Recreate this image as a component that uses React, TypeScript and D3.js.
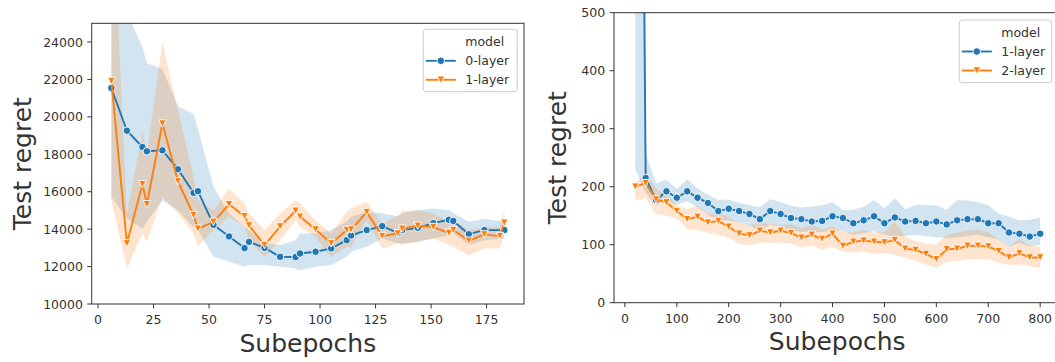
import React from 'react';
import * as d3 from 'd3';

// ---------- Left chart data ----------
const leftBlueX = [6, 13, 20, 22, 29, 36, 43, 45, 52, 59, 66, 68, 75, 82, 89, 91, 98, 105, 112, 114, 121, 128, 135, 137, 144, 151, 158, 160, 167, 174, 183];
const leftBlueMean = [21540, 19260, 18390, 18160, 18210, 17200, 15940, 16030, 14230, 13610, 12990, 13320, 13000, 12520, 12510, 12700, 12790, 12970, 13410, 13660, 13950, 14160, 13800, 13950, 14070, 14320, 14500, 14440, 13730, 13950, 13950];
const leftBlueHi = [32000, 25600, 23720, 22870, 22570, 20560, 20170, 19370, 16260, 14850, 14120, 13950, 13250, 13150, 13410, 13770, 13770, 13950, 14390, 14660, 14920, 14850, 14690, 14850, 15010, 15100, 15010, 14850, 14390, 14560, 14390];
const leftBlueLo = [15720, 14570, 14040, 14390, 15550, 15010, 14120, 13950, 12520, 12260, 11990, 12080, 12080, 11990, 11900, 11810, 11990, 12080, 12520, 12790, 13060, 13500, 13240, 13240, 13320, 13500, 13680, 13770, 13150, 13410, 13500];

const leftOrangeX = [6, 13, 20, 22, 29, 36, 43, 45, 52, 59, 66, 68, 75, 82, 89, 91, 98, 105, 112, 114, 121, 128, 135, 137, 144, 151, 158, 160, 167, 174, 181, 183];
const leftOrangeMean = [21910, 13240, 16400, 15330, 19640, 16560, 14750, 14020, 14390, 15330, 14690, 14200, 13150, 14140, 14980, 14660, 13980, 13240, 13950, 13980, 14910, 13630, 13770, 14020, 14180, 14110, 13800, 13950, 13380, 13720, 13630, 14340];
const leftOrangeHi = [33000, 14800, 19190, 18030, 23990, 20350, 16790, 15550, 15010, 16170, 15370, 14840, 13950, 14840, 15550, 15370, 14480, 13770, 14920, 15100, 15460, 14300, 14700, 14980, 15010, 14840, 14390, 14480, 13950, 14120, 14120, 15010];
const leftOrangeLo = [15550, 11900, 13770, 13320, 15720, 14840, 13770, 13060, 13950, 14660, 14120, 13410, 12520, 13410, 14480, 14120, 13590, 12520, 13060, 13060, 14480, 12970, 13240, 13150, 13320, 13500, 13150, 13060, 12610, 12970, 12970, 13770];

const leftXTicks = [0, 25, 50, 75, 100, 125, 150, 175];
const leftYTicks = [10000, 12000, 14000, 16000, 18000, 20000, 22000, 24000];

// ---------- Right chart data ----------
const rightX = [20, 40, 60, 80, 100, 120, 140, 160, 180, 200, 220, 240, 260, 280, 300, 320, 340, 360, 380, 400, 420, 440, 460, 480, 500, 520, 540, 560, 580, 600, 620, 640, 660, 680, 700, 720, 740, 760, 780, 800];
const rightBlueMean = [2500, 215, 177, 192, 181, 192, 181, 172, 158, 162, 158, 153, 144, 158, 153, 146, 144, 140, 141, 149, 146, 137, 142, 149, 137, 147, 140, 141, 137, 140, 135, 142, 144, 144, 137, 137, 121, 119, 114, 119];
const rightBlueHi = [9000, 258, 205, 212, 196, 213, 197, 186, 177, 178, 172, 169, 164, 179, 173, 167, 164, 166, 168, 173, 160, 160, 166, 177, 163, 180, 161, 169, 168, 168, 160, 177, 176, 173, 168, 154, 148, 142, 143, 147];
const rightBlueLo = [230, 190, 168, 177, 169, 175, 164, 152, 141, 142, 138, 133, 123, 135, 131, 124, 122, 122, 122, 125, 123, 117, 120, 123, 117, 114, 115, 117, 115, 113, 111, 113, 115, 117, 113, 109, 96, 103, 97, 100];
const rightOrangeMean = [200, 206, 178, 173, 158, 144, 148, 138, 141, 131, 119, 116, 124, 121, 124, 120, 112, 117, 110, 119, 98, 105, 107, 105, 104, 108, 93, 91, 84, 75, 92, 93, 98, 98, 97, 89, 78, 85, 78, 78];
const rightOrangeHi = [207, 224, 196, 187, 169, 161, 167, 153, 155, 147, 137, 134, 137, 136, 134, 135, 129, 134, 126, 132, 122, 121, 125, 121, 122, 140, 114, 106, 102, 100, 117, 121, 124, 126, 121, 110, 96, 110, 98, 97];
const rightOrangeLo = [177, 180, 153, 150, 146, 128, 125, 121, 117, 112, 102, 99, 104, 103, 104, 102, 95, 99, 91, 97, 88, 87, 88, 85, 86, 82, 78, 72, 66, 60, 70, 72, 75, 75, 75, 69, 65, 66, 63, 60];

const rightXTicks = [0, 100, 200, 300, 400, 500, 600, 700, 800];
const rightYTicks = [0, 100, 200, 300, 400, 500];

const BLUE = '#1f77b4';
const ORANGE = '#ff7f0e';
const FONT = 'DejaVu Sans, sans-serif';
const TXT = '#333';

type Series = { name: string; x: number[]; mean: number[]; lo: number[]; hi: number[]; color: string; marker: 'o' | 'v' };

function Marker({ type, cx, cy, color }: { type: 'o' | 'v'; cx: number; cy: number; color: string }) {
  const h = 3.75;
  if (type === 'o') return <circle cx={cx} cy={cy} r={h} fill={color} stroke="#fff" strokeWidth={0.9} />;
  return <path d={`M${cx - h},${cy - h}L${cx + h},${cy - h}L${cx},${cy + h}Z`} fill={color} stroke="#fff" strokeWidth={0.9} />;
}

type PanelProps = {
  id: string;
  box: { left: number; right: number; top: number; bottom: number };
  xDomain: [number, number];
  yDomain: [number, number];
  xTicks: number[];
  yTicks: number[];
  series: Series[];
  legend: { x: number; y: number; w: number; h: number };
  yLabelX: number;
};

function Panel({ id, box, xDomain, yDomain, xTicks, yTicks, series, legend, yLabelX }: PanelProps) {
  const x = d3.scaleLinear().domain(xDomain).range([box.left, box.right]);
  const y = d3.scaleLinear().domain(yDomain).range([box.bottom, box.top]);
  const area = (s: Series) =>
    d3.area<number>().x((_, i) => x(s.x[i])).y0((_, i) => y(s.lo[i])).y1((_, i) => y(s.hi[i]))(s.mean) || '';
  const line = (s: Series) => d3.line<number>().x((_, i) => x(s.x[i])).y((d) => y(d))(s.mean) || '';
  const tick = 4.4;
  const pad = 4.4;
  return (
    <g>
      <defs>
        <clipPath id={id}>
          <rect x={box.left} y={box.top} width={box.right - box.left} height={box.bottom - box.top} />
        </clipPath>
      </defs>
      <g clipPath={`url(#${id})`}>
        {series.map((s) => (
          <path key={s.name + 'b'} d={area(s)} fill={s.color} fillOpacity={0.2} stroke="none" />
        ))}
        {series.map((s) => (
          <g key={s.name + 'l'}>
            <path d={line(s)} fill="none" stroke={s.color} strokeWidth={1.9} strokeLinejoin="round" />
            {s.mean.map((v, i) => (
              <Marker key={i} type={s.marker} cx={x(s.x[i])} cy={y(v)} color={s.color} />
            ))}
          </g>
        ))}
      </g>
      <rect x={box.left} y={box.top} width={box.right - box.left} height={box.bottom - box.top} fill="none" stroke={TXT} strokeWidth={1} />
      {xTicks.map((t) => (
        <g key={'x' + t}>
          <line x1={x(t)} x2={x(t)} y1={box.bottom} y2={box.bottom + tick} stroke={TXT} strokeWidth={1} />
          <text x={x(t)} y={box.bottom + tick + pad + 11.6} textAnchor="middle" fontSize={12.5} fontFamily={FONT} fill={TXT}>
            {t}
          </text>
        </g>
      ))}
      {yTicks.map((t) => (
        <g key={'y' + t}>
          <line x1={box.left - tick} x2={box.left} y1={y(t)} y2={y(t)} stroke={TXT} strokeWidth={1} />
          <text x={box.left - tick - pad} y={y(t)} dy="0.36em" textAnchor="end" fontSize={12.5} fontFamily={FONT} fill={TXT}>
            {t}
          </text>
        </g>
      ))}
      <text x={(box.left + box.right) / 2} y={box.bottom + 47.7} textAnchor="middle" fontSize={25} fontFamily={FONT} fill={TXT}>
        Subepochs
      </text>
      <text
        transform={`translate(${yLabelX},${(box.top + box.bottom) / 2}) rotate(-90)`}
        textAnchor="middle"
        fontSize={25}
        fontFamily={FONT}
        fill={TXT}
      >
        Test regret
      </text>
      <g>
        <rect x={legend.x} y={legend.y} width={legend.w} height={legend.h} rx={3} fill="#fff" fillOpacity={0.8} stroke="#ccc" strokeWidth={1} />
        <text x={legend.x + 42} y={legend.y + 17} fontSize={12.5} fontFamily={FONT} fill={TXT}>
          model
        </text>
        {series.map((s, i) => {
          const by = legend.y + 36 + i * 19;
          const cy = by - 4.5;
          return (
            <g key={s.name + 'lg'}>
              <line x1={legend.x + 2.5} x2={legend.x + 32.5} y1={cy} y2={cy} stroke={s.color} strokeWidth={1.9} />
              <Marker type={s.marker} cx={legend.x + 17.5} cy={cy} color={s.color} />
              <text x={legend.x + 42} y={by} fontSize={12.5} fontFamily={FONT} fill={TXT}>
                {s.name}
              </text>
            </g>
          );
        })}
      </g>
    </g>
  );
}

export default function App() {
  const leftSeries: Series[] = [
    { name: '0-layer', x: leftBlueX, mean: leftBlueMean, lo: leftBlueLo, hi: leftBlueHi, color: BLUE, marker: 'o' },
    { name: '1-layer', x: leftOrangeX, mean: leftOrangeMean, lo: leftOrangeLo, hi: leftOrangeHi, color: ORANGE, marker: 'v' },
  ];
  const rightSeries: Series[] = [
    { name: '1-layer', x: rightX, mean: rightBlueMean, lo: rightBlueLo, hi: rightBlueHi, color: BLUE, marker: 'o' },
    { name: '2-layer', x: rightX, mean: rightOrangeMean, lo: rightOrangeLo, hi: rightOrangeHi, color: ORANGE, marker: 'v' },
  ];
  return (
    <svg width={1055} height={362} style={{ position: 'absolute', left: 0, top: 0, display: 'block', background: '#fff' }}>
      <rect x={0} y={0} width={1055} height={362} fill="#fff" />
      <Panel
        id="clipL"
        box={{ left: 91.7, right: 524, top: 23.3, bottom: 304 }}
        xDomain={[-2.85, 191.85]}
        yDomain={[10000, 25000]}
        xTicks={leftXTicks}
        yTicks={leftYTicks}
        series={leftSeries}
        legend={{ x: 423.3, y: 29.3, w: 94, h: 62.4 }}
        yLabelX={31}
      />
      <Panel
        id="clipR"
        box={{ left: 614, right: 1060.4, top: 12.7, bottom: 302.7 }}
        xDomain={[-21, 839]}
        yDomain={[0, 500]}
        xTicks={rightXTicks}
        yTicks={rightYTicks}
        series={rightSeries}
        legend={{ x: 959.3, y: 20, w: 92.4, h: 62.7 }}
        yLabelX={566}
      />
    </svg>
  );
}
